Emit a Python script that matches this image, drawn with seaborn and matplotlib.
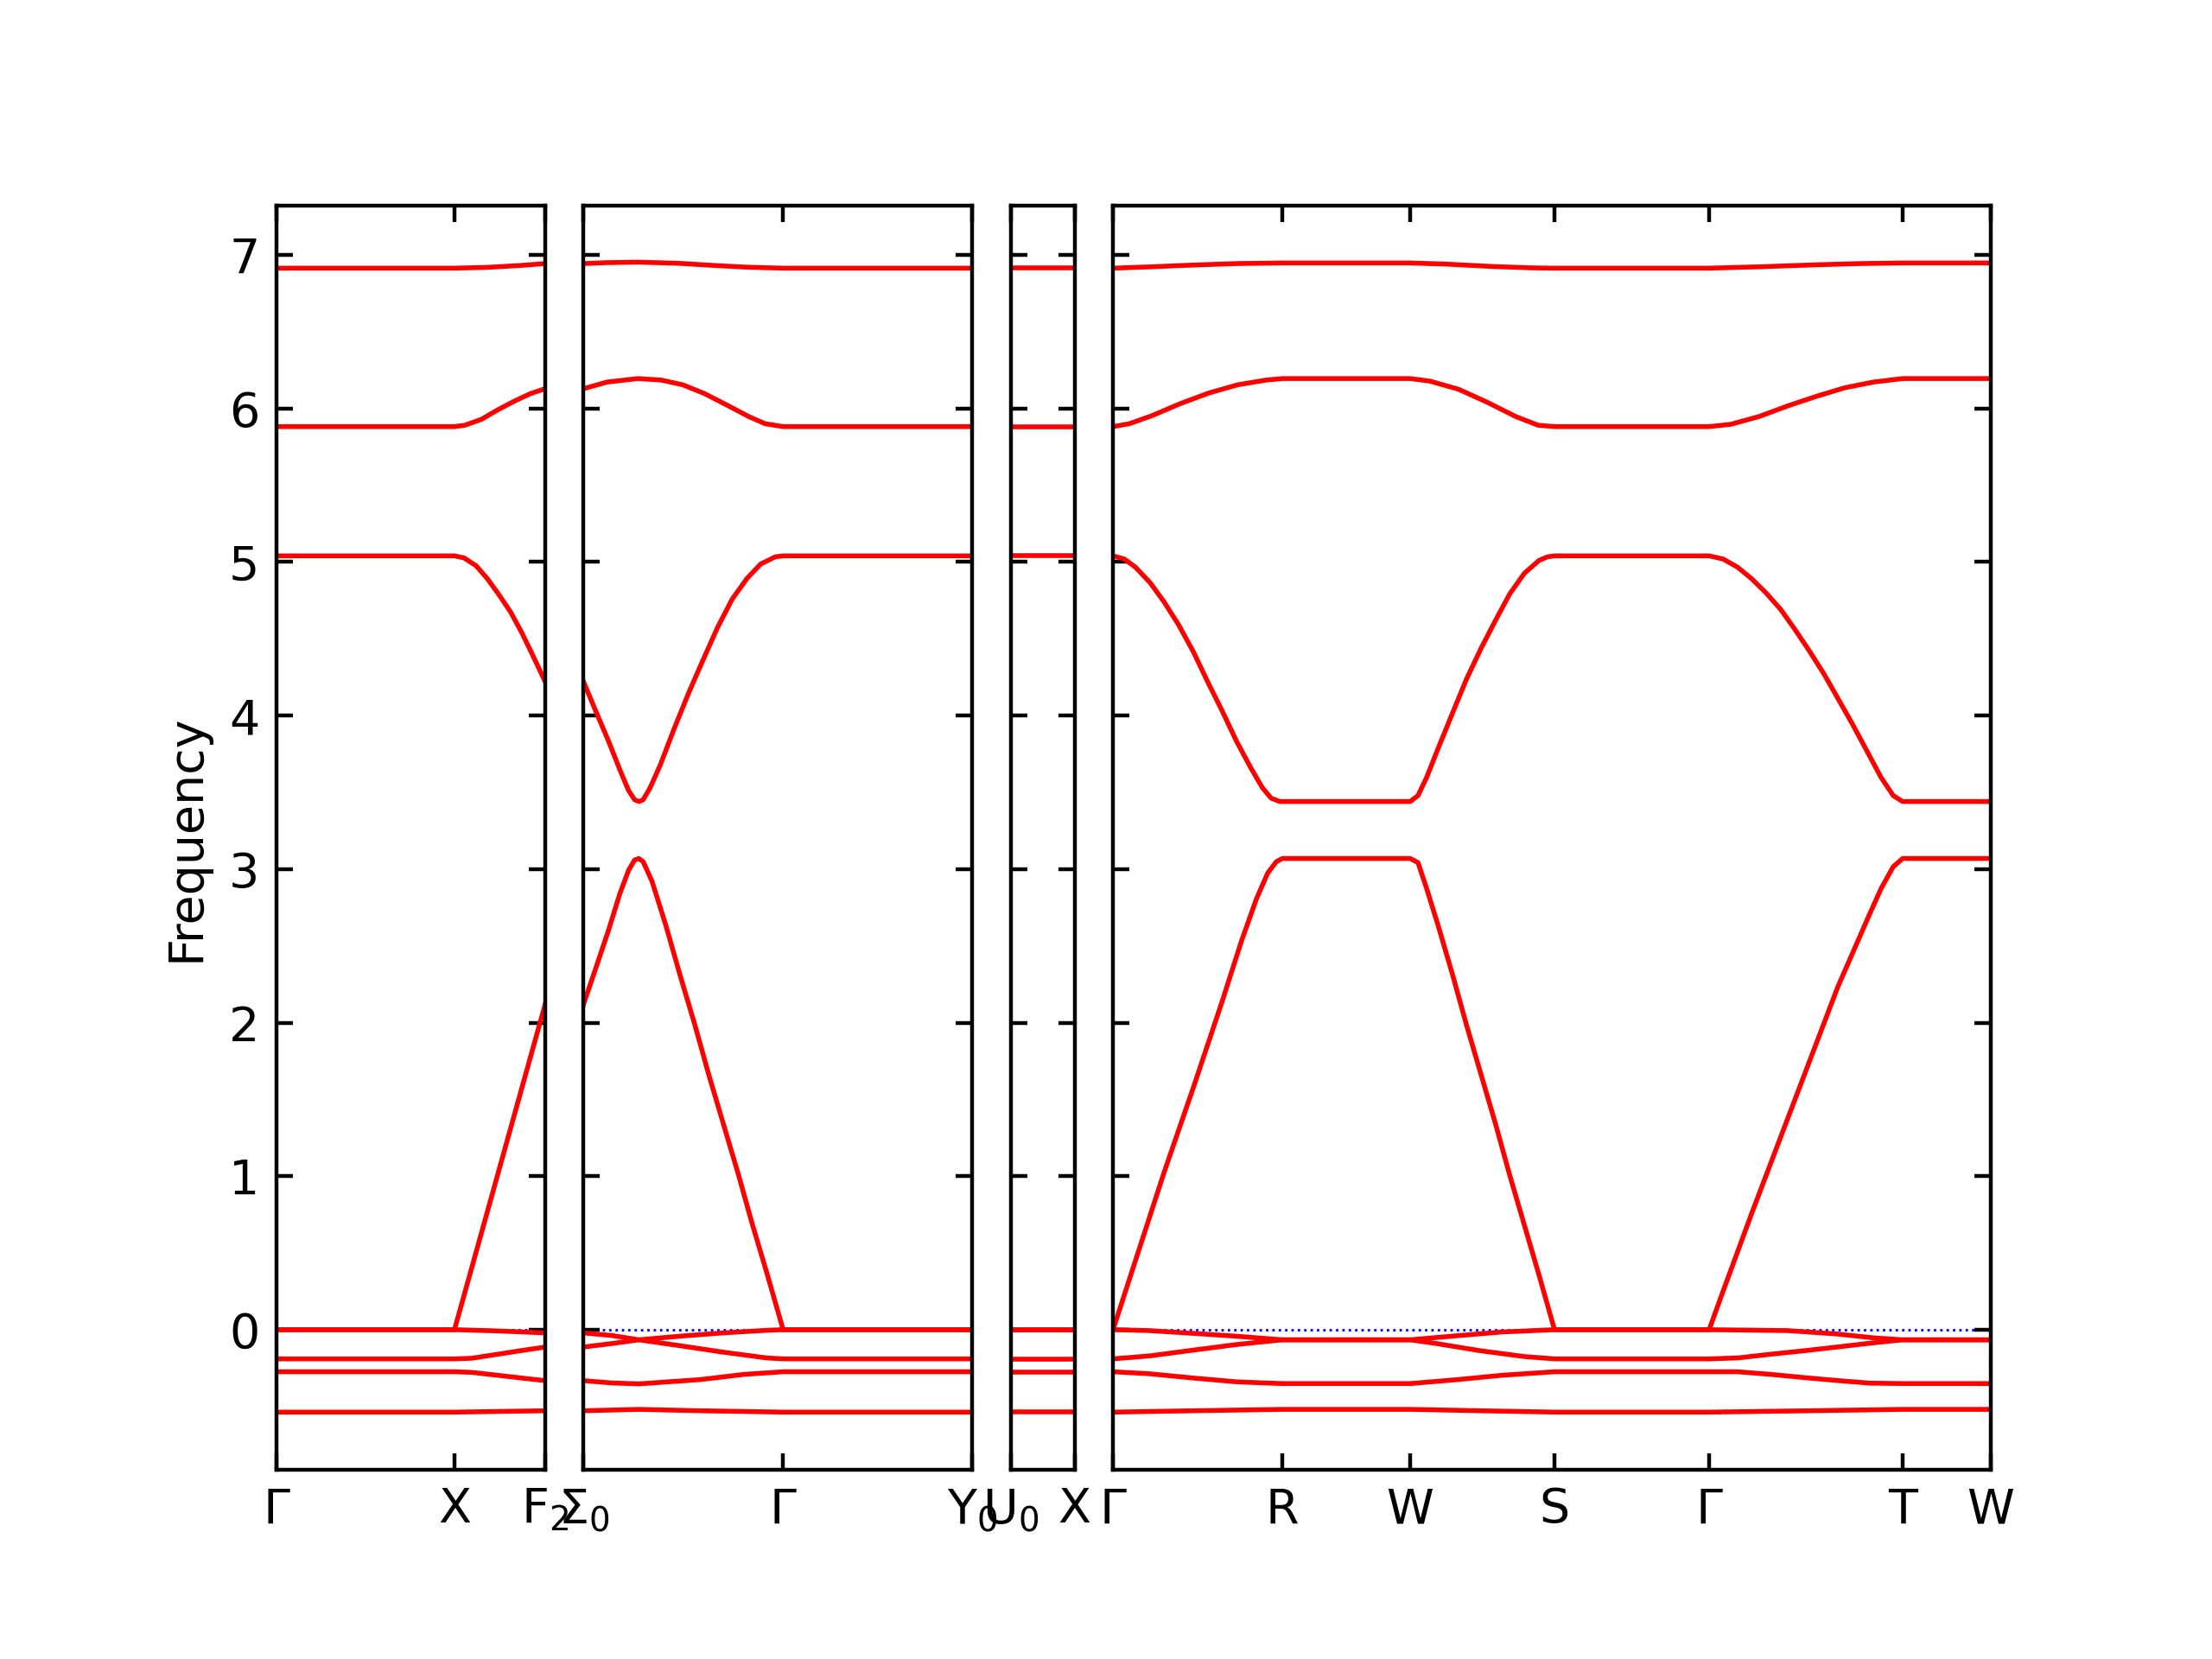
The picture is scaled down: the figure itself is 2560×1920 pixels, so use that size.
import matplotlib
matplotlib.use("Agg")
import matplotlib.pyplot as plt
import pandas as pd
import seaborn as sns

# ---------------- data (path distance, frequency) ----------------
# Panel 1: Γ - X - F2
p1_ticks = [0.0, 0.206, 0.311]
p1_labels = ["Γ", "X", "F$_2$"]
p1_b7_x = [0.0, 0.206, 0.243, 0.281, 0.311]
p1_b7_y = [6.914, 6.914, 6.919, 6.931, 6.944]
p1_b6_x = [0.0, 0.206, 0.218, 0.237, 0.256, 0.275, 0.294, 0.311]
p1_b6_y = [5.882, 5.882, 5.891, 5.929, 5.991, 6.047, 6.097, 6.129]
p1_b5_x = [0.0, 0.206, 0.217, 0.231, 0.244, 0.257, 0.271, 0.284, 0.297, 0.311]
p1_b5_y = [5.04, 5.04, 5.027, 4.976, 4.892, 4.791, 4.674, 4.539, 4.388, 4.22]
p1_b4_x = [0.0, 0.206, 0.311]
p1_b4_y = [0.0, 0.0, 2.12]
p1_b3_x = [0.0, 0.206, 0.256, 0.311]
p1_b3_y = [0.0, 0.0, -0.008, -0.021]
p1_b2_x = [0.0, 0.206, 0.226, 0.256, 0.287, 0.311]
p1_b2_y = [-0.19, -0.19, -0.186, -0.160, -0.133, -0.113]
p1_b1_x = [0.0, 0.206, 0.226, 0.256, 0.287, 0.311]
p1_b1_y = [-0.274, -0.274, -0.278, -0.297, -0.317, -0.332]
p1_b0_x = [0.0, 0.206, 0.311]
p1_b0_y = [-0.537, -0.537, -0.528]

# Panel 2: Σ0 - Γ - Y0
p2_ticks = [0.311, 0.542, 0.761]
p2_labels = ["Σ$_0$", "Γ", "Y$_0$"]
p2_b7_x = [0.311, 0.338, 0.374, 0.420, 0.464, 0.502, 0.542, 0.761]
p2_b7_y = [6.944, 6.950, 6.953, 6.946, 6.931, 6.920, 6.914, 6.914]
p2_b6_x = [0.311, 0.338, 0.374, 0.401, 0.426, 0.451, 0.477, 0.502, 0.521, 0.542, 0.761]
p2_b6_y = [6.129, 6.172, 6.195, 6.185, 6.154, 6.097, 6.022, 5.948, 5.901, 5.882, 5.882]
p2_b5_x = [0.311, 0.326, 0.340, 0.353, 0.363, 0.370, 0.375, 0.380, 0.388, 0.400,
           0.416, 0.433, 0.450, 0.466, 0.483, 0.500, 0.516, 0.533, 0.542, 0.761]
p2_b5_y = [4.22, 4.017, 3.832, 3.647, 3.513, 3.452, 3.44, 3.452, 3.529, 3.681,
           3.917, 4.152, 4.371, 4.573, 4.758, 4.892, 4.987, 5.034, 5.04, 5.04]
p2_b4_x = [0.311, 0.326, 0.340, 0.353, 0.363, 0.370, 0.375, 0.380, 0.390, 0.406,
           0.423, 0.440, 0.456, 0.473, 0.490, 0.506, 0.523, 0.542, 0.761]
p2_b4_y = [2.12, 2.369, 2.604, 2.840, 2.991, 3.059, 3.069, 3.048, 2.924, 2.638,
           2.303, 1.982, 1.659, 1.337, 1.015, 0.693, 0.372, 0.0, 0.0]
p2_b3_x = [0.311, 0.344, 0.375, 0.421, 0.472, 0.523, 0.542, 0.761]
p2_b3_y = [-0.021, -0.038, -0.066, -0.103, -0.146, -0.184, -0.19, -0.19]
p2_b2_x = [0.311, 0.344, 0.375, 0.421, 0.472, 0.523, 0.542, 0.761]
p2_b2_y = [-0.113, -0.090, -0.066, -0.043, -0.021, -0.004, 0.0, 0.0]
p2_b1_x = [0.311, 0.344, 0.375, 0.446, 0.497, 0.542, 0.761]
p2_b1_y = [-0.332, -0.347, -0.353, -0.325, -0.291, -0.274, -0.274]
p2_b0_x = [0.311, 0.375, 0.446, 0.542, 0.761]
p2_b0_y = [-0.528, -0.519, -0.528, -0.537, -0.537]

# Panel 3: U0 - X (all bands flat)
p3_ticks = [0.761, 0.835]
p3_labels = ["U$_0$", "X"]
p3_x = [0.761, 0.835]
p3_levels = [6.914, 5.882, 5.04, 0.0, 0.0, -0.19, -0.274, -0.537]

# Panel 4: Γ - R - W - S - Γ - T - W
p4_ticks = [0.835, 1.031, 1.179, 1.346, 1.525, 1.749, 1.851]
p4_labels = ["Γ", "R", "W", "S", "Γ", "T", "W"]
p4_b7_x = [0.835, 0.880, 0.926, 0.979, 1.031, 1.179, 1.222, 1.274, 1.320, 1.346,
           1.525, 1.583, 1.649, 1.701, 1.749, 1.851]
p4_b7_y = [6.914, 6.923, 6.934, 6.944, 6.948, 6.948, 6.940, 6.925, 6.916, 6.914,
           6.914, 6.923, 6.936, 6.944, 6.948, 6.948]
p4_b6_x = [0.835, 0.854, 0.880, 0.913, 0.946, 0.979, 1.012, 1.031, 1.179, 1.202,
           1.235, 1.268, 1.301, 1.327, 1.346, 1.525, 1.550, 1.583, 1.616, 1.649,
           1.682, 1.715, 1.749, 1.851]
p4_b6_y = [5.882, 5.901, 5.953, 6.032, 6.101, 6.154, 6.185, 6.195, 6.195, 6.178,
           6.125, 6.041, 5.948, 5.891, 5.882, 5.882, 5.897, 5.948, 6.017, 6.079,
           6.135, 6.172, 6.195, 6.195]
p4_b5_x = [0.835, 0.848, 0.861, 0.878, 0.894, 0.911, 0.928, 0.944, 0.961, 0.978,
           0.994, 1.008, 1.018, 1.028, 1.031, 1.179, 1.188, 1.198, 1.211, 1.228,
           1.244, 1.261, 1.278, 1.294, 1.311, 1.328, 1.338, 1.346, 1.525, 1.541,
           1.558, 1.574, 1.591, 1.608, 1.624, 1.641, 1.658, 1.674, 1.691, 1.708,
           1.724, 1.738, 1.749, 1.851]
p4_b5_y = [5.04, 5.020, 4.966, 4.865, 4.741, 4.590, 4.415, 4.226, 4.034, 3.832,
           3.664, 3.529, 3.462, 3.44, 3.44, 3.44, 3.479, 3.597, 3.782, 4.017,
           4.236, 4.438, 4.623, 4.791, 4.926, 5.010, 5.034, 5.04, 5.04, 5.020,
           4.966, 4.892, 4.798, 4.690, 4.563, 4.421, 4.270, 4.112, 3.943, 3.765,
           3.597, 3.479, 3.44, 3.44]
p4_b4_x = [0.835, 0.861, 0.894, 0.928, 0.961, 0.984, 1.001, 1.014, 1.024, 1.031,
           1.179, 1.188, 1.198, 1.211, 1.228, 1.244, 1.261, 1.278, 1.294, 1.311,
           1.328, 1.346, 1.525, 1.541, 1.574, 1.608, 1.641, 1.674, 1.708, 1.724,
           1.738, 1.749, 1.851]
p4_b4_y = [0.0, 0.451, 1.023, 1.578, 2.133, 2.537, 2.806, 2.974, 3.048, 3.069,
           3.069, 3.042, 2.873, 2.638, 2.312, 1.987, 1.661, 1.335, 1.009, 0.683,
           0.357, 0.0, 0.0, 0.249, 0.754, 1.258, 1.746, 2.234, 2.672, 2.873,
           3.015, 3.069, 3.069]
p4_b3_x = [0.835, 0.877, 0.928, 0.979, 1.031, 1.179, 1.234, 1.285, 1.346,
           1.525, 1.616, 1.673, 1.715, 1.749, 1.851]
p4_b3_y = [0.0, -0.006, -0.024, -0.043, -0.066, -0.066, -0.039, -0.015, 0.0,
           0.0, -0.006, -0.028, -0.053, -0.066, -0.066]
p4_b2_x = [0.835, 0.877, 0.928, 0.979, 1.031, 1.179, 1.209, 1.260, 1.311, 1.346,
           1.525, 1.558, 1.596, 1.635, 1.673, 1.711, 1.749, 1.851]
p4_b2_y = [-0.19, -0.171, -0.133, -0.096, -0.066, -0.066, -0.090, -0.137, -0.175, -0.19,
           -0.19, -0.184, -0.160, -0.137, -0.113, -0.088, -0.066, -0.066]
p4_b1_x = [0.835, 0.877, 0.928, 0.979, 1.031, 1.179, 1.234, 1.285, 1.346,
           1.525, 1.558, 1.596, 1.635, 1.673, 1.711, 1.749, 1.851]
p4_b1_y = [-0.274, -0.287, -0.315, -0.340, -0.351, -0.351, -0.325, -0.297, -0.274,
           -0.274, -0.274, -0.291, -0.312, -0.331, -0.348, -0.351, -0.351]
p4_b0_x = [0.835, 0.928, 1.031, 1.179, 1.260, 1.346, 1.525, 1.616, 1.749, 1.851]
p4_b0_y = [-0.537, -0.528, -0.519, -0.519, -0.528, -0.537, -0.537, -0.530, -0.519, -0.519]

y_limits = (-0.912, 7.324)
y_ticks = [0, 1, 2, 3, 4, 5, 6, 7]

# ---------------- assemble tidy frames ----------------
def frame(bands):
    rows = []
    for i, (xs, ys) in enumerate(bands):
        for x, y in zip(xs, ys):
            rows.append({"band": i, "x": x, "y": y})
    return pd.DataFrame(rows)

panels = [
    (frame([(p1_b7_x, p1_b7_y), (p1_b6_x, p1_b6_y), (p1_b5_x, p1_b5_y), (p1_b4_x, p1_b4_y),
            (p1_b3_x, p1_b3_y), (p1_b2_x, p1_b2_y), (p1_b1_x, p1_b1_y), (p1_b0_x, p1_b0_y)]),
     p1_ticks, p1_labels),
    (frame([(p2_b7_x, p2_b7_y), (p2_b6_x, p2_b6_y), (p2_b5_x, p2_b5_y), (p2_b4_x, p2_b4_y),
            (p2_b3_x, p2_b3_y), (p2_b2_x, p2_b2_y), (p2_b1_x, p2_b1_y), (p2_b0_x, p2_b0_y)]),
     p2_ticks, p2_labels),
    (frame([(p3_x, [v, v]) for v in p3_levels]), p3_ticks, p3_labels),
    (frame([(p4_b7_x, p4_b7_y), (p4_b6_x, p4_b6_y), (p4_b5_x, p4_b5_y), (p4_b4_x, p4_b4_y),
            (p4_b3_x, p4_b3_y), (p4_b2_x, p4_b2_y), (p4_b1_x, p4_b1_y), (p4_b0_x, p4_b0_y)]),
     p4_ticks, p4_labels),
]

# ---------------- figure ----------------
plt.rcParams["font.family"] = ["DejaVu Sans"]
fig = plt.figure(figsize=(6.4, 4.8), dpi=400)
widths = [p[1][-1] - p[1][0] for p in panels]
gs = fig.add_gridspec(1, 4, width_ratios=widths, wspace=0.096,
                      left=0.125, right=0.9, top=0.8763, bottom=0.1141)

for i, (df, ticks, labels) in enumerate(panels):
    ax = fig.add_subplot(gs[0, i])
    ax.axhline(0, linestyle=":", color="b", linewidth=0.5, zorder=1)
    sns.lineplot(data=df, x="x", y="y", units="band", estimator=None, sort=False,
                 color="red", linewidth=1.0, legend=False, ax=ax, zorder=2)
    ax.set_xlim(ticks[0], ticks[-1])
    ax.set_ylim(*y_limits)
    ax.set_xticks(ticks)
    ax.set_xticklabels(labels)
    ax.set_yticks(y_ticks)
    ax.tick_params(axis="both", which="both", direction="in",
                   top=True, right=True, bottom=True, left=True)
    ax.set_xlabel("")
    if i == 0:
        ax.set_ylabel("Frequency")
    else:
        ax.set_ylabel("")
        ax.set_yticklabels([])

fig.savefig("out.png", dpi=400)
